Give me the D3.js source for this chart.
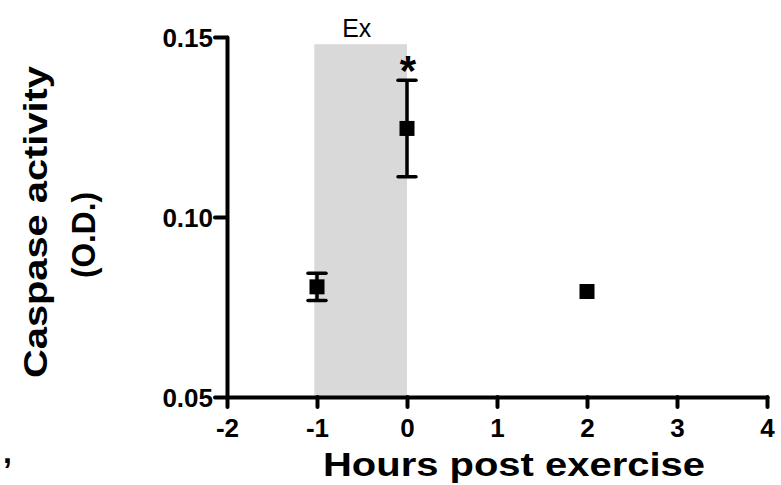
<!DOCTYPE html>
<html>
<head>
<meta charset="utf-8">
<script src="https://cdn.jsdelivr.net/npm/d3@7"></script>
<style>
  html, body { margin: 0; padding: 0; background: #fff; }
  svg { display: block; }
  text { font-family: "Liberation Sans", Arial, Helvetica, sans-serif; fill: #000; }
</style>
</head>
<body>
<div id="chart"></div>
<script>
// ---- data ----
const hours = [-1, 0, 2];
const caspase = [0.0806, 0.1246, 0.0793];
const sem = [0.0038, 0.0134, 0];
const significant = [false, true, false];
const xTicks = [-2, -1, 0, 1, 2, 3, 4];
const xTickLabels = ["-2", "-1", "0", "1", "2", "3", "4"];
const yTicks = [0.05, 0.10, 0.15];
const yTickLabels = ["0.05", "0.10", "0.15"];
const shadeRange = [-1.03, 0];
const shadeTop = 0.148;
const shadeLabel = "Ex";
const xTitle = "Hours post exercise";
const yTitleLines = ["Caspase activity", "(O.D.)"];

// ---- chart ----
const W = 781, H = 485;
const svg = d3.select("#chart").append("svg").attr("width", W).attr("height", H);

const x = d3.scaleLinear().domain([-2, 4]).range([227, 767]);
const y = d3.scaleLinear().domain([0.05, 0.15]).range([397, 37]);

// shaded exercise band
svg.append("rect")
  .attr("x", x(shadeRange[0]))
  .attr("y", y(shadeTop))
  .attr("width", x(shadeRange[1]) - x(shadeRange[0]))
  .attr("height", y(0.05) - y(shadeTop))
  .attr("fill", "#d9d9d9");

svg.append("text")
  .attr("x", (x(shadeRange[0]) + x(shadeRange[1])) / 2 - 4)
  .attr("y", 37)
  .attr("text-anchor", "middle")
  .attr("font-size", 25)
  .attr("textLength", 29).attr("lengthAdjust", "spacingAndGlyphs")
  .text(shadeLabel);

// axes
const xAxis = d3.axisBottom(x).tickValues(xTicks).tickFormat((d, i) => xTickLabels[i]).tickSize(10).tickPadding(12).tickSizeOuter(0);
const yAxis = d3.axisLeft(y).tickValues(yTicks).tickFormat((d, i) => yTickLabels[i]).tickSize(12).tickPadding(2).tickSizeOuter(0);

const gx = svg.append("g").attr("transform", `translate(0,${y(0.05)})`).call(xAxis);
const gy = svg.append("g").attr("transform", `translate(${x(-2)},0)`).call(yAxis);

[gx, gy].forEach(g => {
  g.select(".domain").attr("stroke", "#000").attr("stroke-width", 4).attr("stroke-linecap", "round");
  g.selectAll(".tick line").attr("stroke", "#000").attr("stroke-width", 4).attr("stroke-linecap", "round");
  g.selectAll(".tick text").attr("font-family", "Liberation Sans, Arial, sans-serif")
    .attr("font-weight", "bold").attr("font-size", 26).attr("fill", "#000");
});
gx.selectAll(".tick text").attr("dy", "0.71em");
gy.selectAll(".tick text").attr("dy", "0.38em");

// error bars
const pts = hours.map((h, i) => ({ h, v: caspase[i], e: sem[i], sig: significant[i] }));
const eb = svg.append("g").attr("stroke", "#000").attr("stroke-width", 3.5);
pts.filter(d => d.e > 0).forEach(d => {
  eb.append("line").attr("x1", x(d.h)).attr("x2", x(d.h)).attr("y1", y(d.v - d.e)).attr("y2", y(d.v + d.e));
  [d.v - d.e, d.v + d.e].forEach(v => {
    eb.append("line").attr("x1", x(d.h) - 9).attr("x2", x(d.h) + 9).attr("y1", y(v)).attr("y2", y(v))
      .attr("stroke-linecap", "round");
  });
});

// markers
const S = 15;
svg.append("g").selectAll("rect").data(pts).join("rect")
  .attr("x", d => x(d.h) - S / 2)
  .attr("y", d => y(d.v) - S / 2)
  .attr("width", S).attr("height", S)
  .attr("fill", "#000");

// significance asterisk
svg.append("g").selectAll("text").data(pts.filter(d => d.sig)).join("text")
  .attr("x", d => x(d.h) + 1)
  .attr("y", d => y(d.v + d.e) + 5)
  .attr("text-anchor", "middle")
  .attr("font-weight", "bold")
  .attr("font-size", 42)
  .text("*");

// axis titles
svg.append("text")
  .attr("x", 514).attr("y", 476)
  .attr("text-anchor", "middle")
  .attr("font-weight", "bold").attr("font-size", 34)
  .attr("textLength", 382).attr("lengthAdjust", "spacingAndGlyphs")
  .text(xTitle);

svg.append("text")
  .attr("transform", "translate(47,222) rotate(-90)")
  .attr("text-anchor", "middle")
  .attr("font-weight", "bold").attr("font-size", 33)
  .attr("textLength", 312).attr("lengthAdjust", "spacingAndGlyphs")
  .text(yTitleLines[0]);

svg.append("text")
  .attr("transform", "translate(95,235) rotate(-90)")
  .attr("text-anchor", "middle")
  .attr("font-weight", "bold").attr("font-size", 33)
  .attr("textLength", 86).attr("lengthAdjust", "spacingAndGlyphs")
  .text(yTitleLines[1]);

// stray mark at lower-left edge of the original figure
svg.append("text")
  .attr("x", 3).attr("y", 463)
  .attr("font-weight", "bold").attr("font-size", 32)
  .text(",");
</script>
</body>
</html>
